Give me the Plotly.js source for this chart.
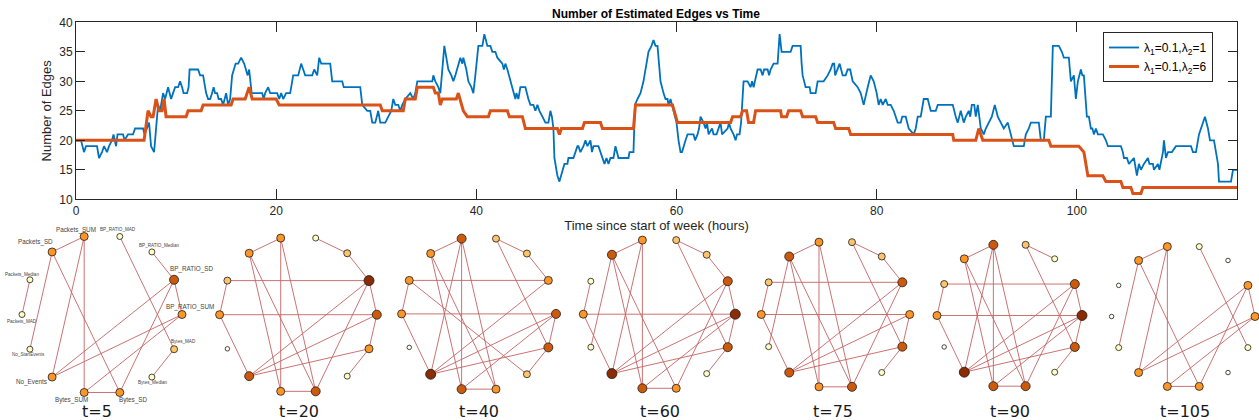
<!DOCTYPE html>
<html><head><meta charset="utf-8">
<script src="https://cdn.plot.ly/plotly-3.0.1.min.js"></script>
<style>html,body{margin:0;padding:0;background:#fff}#chart{width:1259px;height:420px}</style>
</head><body><div id="chart"></div>
<script>
// ---------------- DATA ----------------
const blueTime = [0,0.5,0.8,1.0,2.1,2.3,2.6,2.8,3.1,3.3,3.6,3.75,4.0,4.15,4.7,4.85,5.2,5.7,5.9,6.7,6.85,7.3,7.5,7.8,8.2,8.4,8.7,8.9,9.2,9.5,9.7,9.9,10.2,10.4,10.6,10.75,11.1,11.25,11.35,12.2,12.4,12.7,12.8,13.0,13.2,13.4,13.6,13.75,13.9,14.1,14.25,14.5,14.7,14.85,15.0,15.2,15.4,15.6,15.95,16.2,16.5,16.8,17.15,17.3,17.55,18.6,18.75,18.9,19.2,19.4,20.1,20.3,20.5,20.7,21.0,21.4,21.7,22.2,22.5,22.7,22.9,23.6,23.8,24.1,24.3,24.5,25.4,25.6,26.6,26.75,28.4,28.6,29.1,29.4,29.6,29.9,30.2,30.4,30.9,31.2,31.5,31.7,31.9,32.2,32.4,32.6,32.9,33.4,33.7,33.9,34.1,35.6,35.7,35.9,36.2,36.4,36.7,36.8,37.0,37.2,37.5,37.7,37.9,38.2,38.4,38.6,38.7,39.0,39.2,39.5,39.7,39.9,40.2,40.6,40.8,41.1,41.4,41.6,41.9,42.1,42.6,42.75,42.9,43.1,43.4,43.7,43.9,44.0,44.2,44.4,44.9,45.2,45.4,45.7,45.9,46.1,46.3,46.6,46.9,47.2,47.4,47.55,47.7,47.8,48.1,48.3,48.6,48.8,49.1,49.2,49.7,49.9,50.1,50.2,50.4,50.7,50.9,51.1,51.4,51.55,51.7,52.2,52.4,52.6,52.8,53.0,53.2,53.4,53.7,53.9,54.05,54.2,55.2,55.3,55.7,55.85,56.1,56.4,56.7,57.0,57.2,57.5,57.7,57.9,58.1,58.25,58.4,58.7,58.9,59.1,59.2,59.4,59.55,59.7,60.0,60.2,60.4,60.55,60.7,60.9,61.1,61.7,61.85,62.1,62.25,62.4,62.7,62.9,63.05,63.2,63.55,63.7,64.0,64.2,64.4,64.55,65.1,65.25,65.4,65.7,65.9,66.05,66.3,66.45,66.7,67.1,67.4,67.55,67.7,68.1,68.4,68.6,68.75,69.1,69.25,69.4,69.7,70.1,70.3,70.5,71.4,71.6,72.2,72.4,72.5,72.6,72.9,73.3,73.4,73.9,74.1,74.7,75.1,75.4,75.6,75.75,75.85,76.1,76.3,76.6,76.9,77.1,77.35,77.6,78.1,78.4,78.7,79.1,79.4,79.7,80.0,80.2,80.4,80.6,80.9,81.1,81.4,81.7,82.1,82.4,82.55,82.9,83.2,83.7,83.9,84.1,84.4,84.7,85.1,85.4,85.9,86.1,87.6,87.9,88.1,88.4,88.7,88.9,89.2,89.35,89.5,89.75,89.9,90.1,90.4,90.7,90.9,91.2,91.5,91.8,92.1,92.4,92.7,93.1,93.4,93.7,94.7,94.9,95.2,95.4,96.2,96.4,96.7,96.9,97.4,97.6,98.2,98.5,98.7,99.2,99.4,99.7,99.9,100.1,100.4,100.55,100.7,101.0,101.2,101.4,101.55,101.7,101.9,102.1,102.6,102.9,103.1,104.4,104.6,104.7,105.0,105.2,105.7,106.0,106.2,106.4,106.7,107.1,107.25,107.6,107.7,108.1,108.25,108.6,108.7,108.9,109.1,109.5,109.9,111.4,111.6,111.9,112.2,112.6,112.8,113.1,113.3,113.7,114.1,114.2,115.4,115.6,116];
const blueEdges = [20,20,18,19,19,17,18,19,18,19,20,21,19,21,21,20,21,21,22,22,21,23,19,18,26,25,28,27,29,27,28,29,29,30,29,28,28,29,32,32,31,31,30,28,27,27,28,29,28,28,27,27,26,27,28,26,27,31,33,33,34,33,31,32,28,28,27,28,29,28,28,27,28,27,28,28,31,31,33,32,31,31,32,31,34,33,33,30,30,29,29,26,25,25,23,23,25,23,23,24,25,27,26,26,25,26,27,28,27,28,30,30,31,30,29,28,35,36,34,32,31,30,31,33,34,33,34,32,30,29,28,31,36,36,38,36,36,35,35,34,33,32,33,32,30,28,27,28,27,29,29,27,26,26,25,26,25,24,23,23,25,24,22,17,14,13,15,16,16,17,17,18,19,19,18,19,20,19,20,18,19,19,18,17,16,17,16,17,17,19,18,17,17,18,18,26,27,28,30,33,35,36,37,36,36,33,30,28,27,27,26,27,26,25,23,20,18,18,19,20,21,21,20,21,22,24,23,22,23,21,22,21,21,22,23,21,22,23,22,21,20,21,21,23,30,30,29,30,29,32,32,31,32,32,31,32,33,33,38,35,35,36,36,36,33,31,29,29,28,28,30,30,31,32,33,33,31,32,33,31,31,32,32,30,29,28,26,29,31,30,28,26,27,26,27,26,26,25,23,23,24,24,22,21,22,24,24,27,27,25,25,26,26,24,23,25,23,24,25,24,26,26,24,26,22,21,22,23,24,26,24,23,22,23,21,19,19,21,22,23,23,20,20,24,24,36,36,35,34,34,30,31,27,30,32,31,31,24,24,22,22,21,22,21,21,20,19,19,18,17,17,16,17,14,16,15,16,17,16,16,15,16,15,18,20,17,18,18,19,19,18,18,21,23,24,22,20,20,16,13,13,15,15];
const redTime = [0,6.8,7.2,7.5,7.7,8.0,8.3,8.6,8.8,9.0,11.0,11.2,12.5,12.7,15.5,15.7,16.9,17.1,17.3,17.6,20.0,20.3,30.4,30.6,32.7,32.9,33.9,34.1,35.7,35.9,36.2,36.4,36.6,38.0,38.2,38.7,39.1,41.2,41.4,43.1,43.3,44.6,44.9,48.1,48.3,48.5,50.6,50.8,52.4,52.6,55.7,55.9,59.6,60.1,65.4,65.6,66.4,66.6,67.0,67.2,67.7,67.9,70.4,70.5,71.0,71.2,72.4,72.6,73.9,74.1,75.7,75.9,77.2,77.4,87.6,87.7,89.9,90.2,90.6,97.2,97.4,100.2,100.7,101.1,102.6,102.9,104.4,104.6,105.4,105.6,106.4,106.6,116];
const redEdges = [20,20,25,24,24,27,25,25,27,24,24,25,25,26,26,27,27,28,29,27,27,26,26,25,25,27,27,29,29,28,28,26,27,27,28,25,24,24,25,25,24,24,22,22,21,22,22,23,23,22,22,26,26,23,23,24,24,25,25,23,23,25,25,24,24,25,25,24,24,23,23,22,22,21,21,20,20,22,20,20,19,19,18,14,14,13,13,12,12,11,11,12,12];

const seriesNames = ['λ<sub>1</sub>=0.1,λ<sub>2</sub>=1','λ<sub>1</sub>=0.1,λ<sub>2</sub>=6'];
const xTicks = [0,20,40,60,80,100];
const yTicks = [10,15,20,25,30,35,40];

const nodeNames = ['BP_RATIO_MAD','BP_RATIO_Median','BP_RATIO_SD','BP_RATIO_SUM','Bytes_MAD','Bytes_Median','Bytes_SD','Bytes_SUM','No_Events','No_StartEvents','Packets_MAD','Packets_Median','Packets_SD','Packets_SUM'];
const snapshotLabels = ['t=5','t=20','t=40','t=60','t=75','t=90','t=105'];
const edgesT5   = [[12,13],[11,10],[12,9],[12,6],[13,7],[13,8],[0,4],[1,2],[2,3],[2,8],[2,6],[3,8],[3,7],[4,5],[7,6]];
const edgesT20  = [[12,13],[0,1],[1,2],[11,2],[11,10],[10,3],[10,8],[12,7],[12,6],[13,7],[13,6],[2,8],[2,6],[2,3],[3,8],[3,4],[4,8],[4,5],[7,6]];
const edgesT40  = [[12,13],[13,8],[13,7],[13,6],[12,7],[12,6],[11,2],[11,10],[11,5],[10,3],[10,8],[0,1],[1,2],[0,4],[2,8],[3,8],[4,8],[3,7],[3,4],[7,6],[4,5]];
const edgesT60  = [[12,13],[13,7],[13,8],[12,9],[12,7],[12,6],[11,10],[10,3],[10,8],[0,1],[1,2],[0,4],[2,8],[2,6],[2,3],[3,8],[3,7],[3,4],[4,8],[7,6],[4,5]];
const edgesT75  = [[12,13],[13,7],[13,6],[12,9],[12,7],[12,6],[11,2],[11,10],[10,3],[10,8],[0,1],[1,2],[0,4],[2,8],[2,6],[3,8],[4,8],[3,4],[7,6],[4,5]];
const edgesT90  = [[12,13],[0,1],[0,4],[11,2],[11,10],[10,3],[10,8],[13,7],[13,8],[13,6],[12,7],[12,6],[2,8],[2,6],[2,3],[3,8],[3,7],[3,4],[4,8],[7,6],[4,5]];
const edgesT105 = [[12,13],[12,9],[12,6],[13,7],[13,8],[0,4],[2,8],[2,6],[2,3],[3,8],[3,7],[7,6]];
const snapshotEdges = [edgesT5,edgesT20,edgesT40,edgesT60,edgesT75,edgesT90,edgesT105];

// ---------------- LAYOUT / STYLE ----------------
const W = 1259, H = 420;
const FONT = 'Liberation Sans, Arial, Helvetica, sans-serif';
const INK = '#262626';
// graph centre x, centre y, radius (pixels)
const graphGeom = [[102,314.5,80],[298.2,314.7,78.6],[478.8,313.9,77.2],[659.3,314.2,76],[835.5,314.5,74.2],[1009.5,315.5,72.5],[1183.3,316.5,71.7]];
const snapLabelX = [97,298.5,479,660,833,1010,1185];
const degColors = ['#fffff0','#ffffc4','#fdc46c','#fd9628','#cb5a0d','#8b2c04'];
const degSizes = [4.5,6,7,8,9,10];
// label offsets for first graph (dx, dy px)
const labelOffsets = [[-2,-7],[7,-6],[17,-11],[8,-8],[9,-8],[1,5],[13,8],[-13,8],[-21,5],[-1,5],[0,7],[-8,-5],[-17,-10],[-8,-7]];

function nodePos(g, i) {
  const [cx, cy, r] = graphGeom[g];
  const a = (77.142857 - i * 360 / 14) * Math.PI / 180;
  return [cx + r * Math.cos(a), cy - r * Math.sin(a)];
}

const traces = [
  {x: blueTime, y: blueEdges, type: 'scatter', mode: 'lines', name: seriesNames[0],
   line: {color: '#0072BD', width: 1.8}, xaxis: 'x', yaxis: 'y'},
  {x: redTime, y: redEdges, type: 'scatter', mode: 'lines', name: seriesNames[1],
   line: {color: '#D95319', width: 3}, xaxis: 'x', yaxis: 'y'}
];
const annotations = [];

snapshotEdges.forEach((edges, g) => {
  const deg = new Array(nodeNames.length).fill(0);
  edges.forEach(([a, b]) => { deg[a]++; deg[b]++; });
  const ex = [], ey = [];
  edges.forEach(([a, b]) => {
    const p = nodePos(g, a), q = nodePos(g, b);
    ex.push(p[0], q[0], null); ey.push(p[1], q[1], null);
  });
  traces.push({x: ex, y: ey, type: 'scatter', mode: 'lines', showlegend: false, hoverinfo: 'skip',
    line: {color: 'rgba(196,100,100,0.9)', width: 1}, xaxis: 'x2', yaxis: 'y2'});
  const nx = [], ny = [];
  nodeNames.forEach((n, i) => { const p = nodePos(g, i); nx.push(p[0]); ny.push(p[1]); });
  traces.push({x: nx, y: ny, text: nodeNames, type: 'scatter', mode: 'markers', showlegend: false,
    hoverinfo: 'text', cliponaxis: false,
    marker: {size: deg.map(d => degSizes[Math.min(d, 5)]), color: deg.map(d => degColors[Math.min(d, 5)]),
             opacity: 1, line: {color: '#1a1a1a', width: 0.8}},
    xaxis: 'x2', yaxis: 'y2'});
  annotations.push({xref: 'x2', yref: 'y2', x: snapLabelX[g], y: 411, text: snapshotLabels[g],
    showarrow: false, font: {family: 'DejaVu Sans, sans-serif', size: 16, color: '#1a1a1a'}});
  if (g === 0) {
    nodeNames.forEach((n, i) => {
      const p = nodePos(0, i);
      annotations.push({xref: 'x2', yref: 'y2', x: p[0] + labelOffsets[i][0], y: p[1] + labelOffsets[i][1],
        text: n, showarrow: false,
        font: {family: FONT, size: deg[i] >= 3 ? 6.3 : 4.6, color: '#444'}});
    });
  }
});

const layout = {
  width: W, height: H,
  margin: {l: 0, r: 0, t: 0, b: 0},
  paper_bgcolor: '#fff', plot_bgcolor: 'rgba(0,0,0,0)',
  showlegend: true,
  title: {text: '<b>Number of Estimated Edges vs Time</b>', font: {family: FONT, size: 12, color: '#000'},
          x: 656 / W, xanchor: 'center', y: 1 - 13.7 / H, yanchor: 'middle'},
  xaxis: {domain: [76 / W, 1237 / W], range: [0, 116], tickvals: xTicks, ticks: 'inside', ticklen: 10,
          tickcolor: INK, showline: true, linecolor: INK, linewidth: 1, mirror: 'ticks', showgrid: false,
          zeroline: false, tickfont: {family: FONT, size: 12, color: INK}, automargin: false, anchor: 'y',
          title: {text: 'Time since start of week (hours)', font: {family: FONT, size: 13, color: INK}, standoff: 1}},
  yaxis: {domain: [(H - 199.3) / H, (H - 22.3) / H], range: [10, 40], tickvals: yTicks, ticks: 'inside', ticklen: 9,
          tickcolor: INK, showline: true, linecolor: INK, linewidth: 1, mirror: 'ticks', showgrid: false,
          zeroline: false, tickfont: {family: FONT, size: 12, color: INK}, automargin: false, anchor: 'x',
          title: {text: 'Number of Edges', font: {family: FONT, size: 13, color: INK}, standoff: 4}},
  xaxis2: {domain: [0, 1], range: [0, W], visible: false, anchor: 'y2', fixedrange: true},
  yaxis2: {domain: [0, 195 / H], range: [H, 225], visible: false, anchor: 'x2', fixedrange: true},
  legend: {x: 1103 / W, y: 1 - 32 / H, xanchor: 'left', yanchor: 'top', bgcolor: '#fff',
           bordercolor: INK, borderwidth: 1, font: {family: FONT, size: 12, color: '#000'},
           tracegroupgap: 0, itemwidth: 30},
  annotations: annotations
};

Plotly.newPlot('chart', traces, layout, {displayModeBar: false, staticPlot: true});
</script>
</body></html>
